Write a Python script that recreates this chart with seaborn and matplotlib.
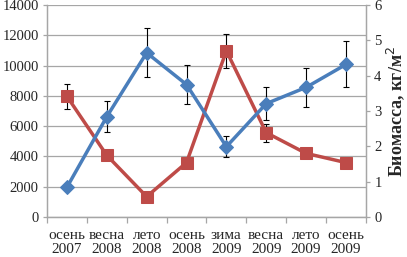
import numpy as np
import pandas as pd
import matplotlib
matplotlib.use("Agg")
import matplotlib.pyplot as plt
import seaborn as sns

categories = ["осень\n2007", "весна\n2008", "лето\n2008", "осень\n2008",
              "зима\n2009", "весна\n2009", "лето\n2009", "осень\n2009"]
# red series, left axis (экз/м²)
density = [7970, 4070, 1340, 3590, 10980, 5570, 4200, 3590]
density_err = [830, 250, 0, 0, 1120, 590, 250, 0]
# blue series, right axis (кг/м²)
biomass = [0.84, 2.84, 4.65, 3.75, 1.99, 3.21, 3.67, 4.32]
biomass_err = [0.0, 0.43, 0.70, 0.55, 0.29, 0.47, 0.55, 0.65]
left_ticks = [0, 2000, 4000, 6000, 8000, 10000, 12000, 14000]
right_ticks = [0, 1, 2, 3, 4, 5, 6]

sns.set_theme(style="white")
plt.rcParams['font.family'] = ['Liberation Serif', 'DejaVu Serif']

blue = "#4A7EBB"
red = "#BE4B48"
grid_c = "#A6A6A6"

x = np.arange(len(categories))
df = pd.DataFrame({"x": x, "density": density, "biomass": biomass})

fig, ax = plt.subplots(figsize=(4.07, 2.57), dpi=100)
fig.subplots_adjust(left=0.1155, right=0.899, top=0.98, bottom=0.156)
ax2 = ax.twinx()

ax.set_ylim(0, 14000)
ax.set_yticks(left_ticks)
ax.set_yticklabels([str(t) for t in left_ticks])
ax.yaxis.grid(True, color=grid_c, linewidth=0.9)
ax.set_axisbelow(True)

ax2.set_ylim(0, 6)
ax2.set_yticks(right_ticks)

ax.errorbar(x, density, yerr=density_err, fmt="none", ecolor="black",
            elinewidth=0.8, capsize=2.5, capthick=0.8, zorder=3)
sns.lineplot(data=df, x="x", y="density", ax=ax, color=red, linewidth=2.5,
             marker="s", markersize=9, markeredgecolor=red, zorder=4)

ax2.errorbar(x, biomass, yerr=biomass_err, fmt="none", ecolor="black",
             elinewidth=0.8, capsize=2.5, capthick=0.8, zorder=3)
sns.lineplot(data=df, x="x", y="biomass", ax=ax2, color=blue, linewidth=2.5,
             marker="D", markersize=7, markeredgecolor=blue, zorder=4)

for a in (ax, ax2):
    a.set_xlim(-0.5, len(categories) - 0.5)
    a.set_xlabel("")
    a.spines["top"].set_visible(False)
    for s in ("left", "right", "bottom"):
        a.spines[s].set_color(grid_c)
        a.spines[s].set_linewidth(0.9)
    a.tick_params(axis="y", labelsize=10.5, length=3, width=0.9, color=grid_c, pad=3)

ax.set_ylabel("")
ax2.set_ylabel("Биомасса, кг/м$^2$", fontsize=13, fontweight="bold", labelpad=2)
ax.tick_params(axis="y", left=True)
ax2.tick_params(axis="y", right=True)

ax.set_xticks(x)
ax.set_xticklabels(categories, fontsize=11, linespacing=1.05)
ax.tick_params(axis="x", which="major", length=0, pad=9)
ax.set_xticks(np.arange(-0.5, len(categories)), minor=True)
ax.tick_params(axis="x", which="minor", length=4, width=0.9, color=grid_c, bottom=True)

fig.savefig("out.png", dpi=100)
